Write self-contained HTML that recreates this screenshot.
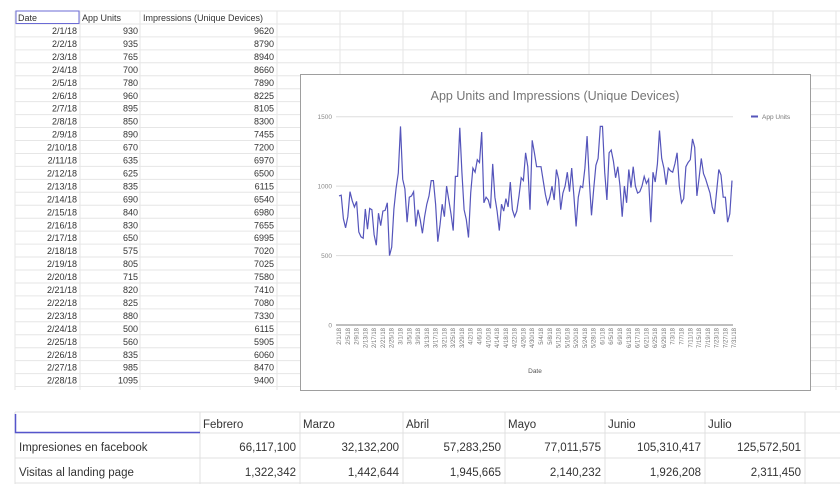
<!DOCTYPE html>
<html><head><meta charset="utf-8"><style>
body{margin:0;background:#fff;width:840px;height:484px;overflow:hidden;font-family:"Liberation Sans",Arial,sans-serif}
svg text{font-family:"Liberation Sans",Arial,sans-serif}
</style></head><body>
<svg id="s" width="840" height="484" viewBox="0 0 840 484" xmlns="http://www.w3.org/2000/svg">
<g id="grid"></g>
<g id="cells"></g>
<g id="chart"></g>
<g id="table2"></g>
</svg>
<script>
const appUnits=[930,935,765,700,780,960,895,850,890,670,635,625,835,690,840,830,650,575,805,715,820,825,880,500,560,835,985,1095,
1430,1050,980,740,920,930,960,710,830,760,660,780,870,930,1040,1040,870,600,720,870,780,1000,900,800,680,1070,1070,1420,1100,830,760,
630,950,1130,1100,1190,1170,1390,880,920,900,840,1160,920,820,680,870,820,910,850,1030,830,780,820,930,1060,1040,1240,1140,830,1330,
1240,1140,1140,1140,1040,940,870,920,1000,900,1120,1050,830,950,1000,1100,960,1130,930,710,920,1000,990,1130,1360,1040,790,980,1150,1200,1430,
1430,1100,900,1240,1260,1180,1060,1140,1000,780,1000,880,1120,990,1140,1000,950,960,1000,1070,1020,1050,740,1100,1030,1160,1400,1200,1130,1010,
1130,1110,1100,1160,1240,1000,880,910,1140,1170,1190,1340,1280,930,1060,1200,1090,1050,1000,950,850,800,960,1120,1080,920,920,740,800,1040];
const impressions=[9620,8790,8940,8660,7890,8225,8105,8300,7455,7200,6970,6500,6115,6540,6980,7655,6995,7020,7025,7580,7410,7080,7330,6115,5905,6060,8470,9400];
const yTicks=[0,500,1000,1500];
const months=["Febrero","Marzo","Abril","Mayo","Junio","Julio"];
const fbImpr=["66,117,100","32,132,200","57,283,250","77,011,575","105,310,417","125,572,501"];
const visitas=["1,322,342","1,442,644","1,945,665","2,140,232","1,926,208","2,311,450"];
const NS="http://www.w3.org/2000/svg";
function mk(p,t,a,txt){const e=document.createElementNS(NS,t);for(const k in a)e.setAttribute(k,a[k]);if(txt!==undefined)e.textContent=txt;p.appendChild(e);return e;}
const dates=[];{const md=[28,31,30,31,30,31];for(let m=0;m<6;m++)for(let d=1;d<=md[m];d++)dates.push((m+2)+"/"+d+"/18");}
// grid
const G=document.getElementById('grid');
for(let i=0;i<30;i++){const y=11+i*12.95;const l=mk(G,'line',{x1:15,x2:840,y1:y,y2:y,stroke:'#e6e6e6','stroke-width':1});
}
[15,80,140,277,340,403,466,528,589,651,712,773,836].forEach(x=>{const l=mk(G,'line',{x1:x,x2:x,y1:11,y2:390,stroke:'#e6e6e6'});
});
// cells
const C=document.getElementById('cells');
const hd=[["Date",18,'start'],["App Units",82,'start'],["Impressions (Unique Devices)",143,'start']];
hd.forEach(h=>{const t=mk(C,'text',{x:h[1],y:21,'font-size':9,fill:'#333','text-anchor':h[2]},h[0]);
});
const sel=mk(C,'rect',{x:16,y:11,width:63,height:12.5,fill:'none',stroke:'#6b6bd6','stroke-width':1});

for(let i=0;i<28;i++){const y=34+i*12.95;
let t=mk(C,'text',{x:77,y:y,'font-size':9,fill:'#333','text-anchor':'end'},dates[i]);
t=mk(C,'text',{x:138,y:y,'font-size':9,fill:'#333','text-anchor':'end'},appUnits[i]);
t=mk(C,'text',{x:274,y:y,'font-size':9,fill:'#333','text-anchor':'end'},impressions[i]);}
// chart
const H=document.getElementById('chart');
const bg=mk(H,'rect',{x:300.5,y:74.5,width:510,height:316,fill:'#fff',stroke:'#9e9e9e'});
const x0=339,x1=732,yb=325,yt=116.7;
const xs=i=>x0+(x1-x0)*i/(appUnits.length-1);
const ys=v=>yb-(yb-yt)*v/1500;
let t=mk(H,'text',{x:555,y:100,'font-size':12.5,fill:'#757575','text-anchor':'middle'},'App Units and Impressions (Unique Devices)');
yTicks.forEach(v=>{const l=mk(H,'line',{x1:336,x2:733,y1:ys(v),y2:ys(v),stroke:v==0?'#999':'#ddd','stroke-width':v==0?1.2:1});
const tt=mk(H,'text',{x:332,y:ys(v)+2.5,'font-size':6.5,fill:'#888','text-anchor':'end'},v);});
for(let i=0;i<dates.length;i+=4){const tt=mk(H,'text',{x:0,y:0,'font-size':6,fill:'#777','text-anchor':'end',transform:`translate(${xs(i)+2},${328}) rotate(-90)`},dates[i]);}
t=mk(H,'text',{x:535,y:373,'font-size':6.5,fill:'#555','text-anchor':'middle'},'Date');
const line=mk(H,'polyline',{points:appUnits.map((v,i)=>xs(i).toFixed(1)+','+ys(v).toFixed(1)).join(' '),fill:'none',stroke:'#5555bb','stroke-width':1.2});

const lg=mk(H,'line',{x1:751,x2:758,y1:116.5,y2:116.5,stroke:'#5555bb','stroke-width':2});
t=mk(H,'text',{x:762,y:119,'font-size':6.5,fill:'#777'},'App Units');
// bottom table
const T=document.getElementById('table2');
const cx=[15,200,300,403,505,605,705,805];
[412,433,458,483].forEach(y=>{const l=mk(T,'line',{x1:15,x2:840,y1:y,y2:y,stroke:'#e0e0e0'});});
cx.forEach(x=>{const l=mk(T,'line',{x1:x,x2:x,y1:412,y2:484,stroke:'#e0e0e0'});});
const s2=mk(T,'path',{d:'M15.5,414 V432.5 H200',fill:'none',stroke:'#5555cc','stroke-width':1.5});
months.forEach((m,i)=>{const tt=mk(T,'text',{x:cx[i+1]+3,y:428,'font-size':11.5,fill:'#333'},m);
let a=mk(T,'text',{x:cx[i+2]-4,y:451,'font-size':11.5,fill:'#333','text-anchor':'end'},fbImpr[i]);
a=mk(T,'text',{x:cx[i+2]-4,y:476,'font-size':11.5,fill:'#333','text-anchor':'end'},visitas[i]);});
t=mk(T,'text',{x:19,y:451,'font-size':11.5,fill:'#333'},'Impresiones en facebook');
t=mk(T,'text',{x:19,y:476,'font-size':11.5,fill:'#333'},'Visitas al landing page');
</script>
</body></html>
